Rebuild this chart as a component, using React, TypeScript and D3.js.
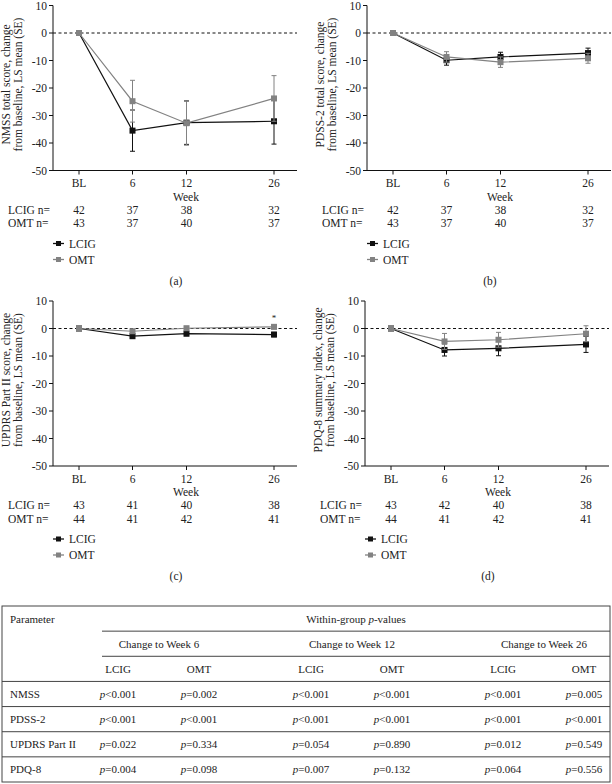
import React from 'react';
import * as d3 from 'd3';

// ---------- data ----------
const weeks = [0, 6, 12, 26];
const weekLabels = ['BL', '6', '12', '26'];
const yTicks = [10, 0, -10, -20, -30, -40, -50];
const seriesNames = ['LCIG', 'OMT'];

const nmssLCIG = [0, -35.5, -32.6, -32.1];
const nmssLCIGse = [0, 7.5, 7.9, 8.3];
const nmssOMT = [0, -24.8, -32.8, -23.8];
const nmssOMTse = [0, 7.6, 8.0, 8.3];
const nmssNLCIG = [42, 37, 38, 32];
const nmssNOMT = [43, 37, 40, 37];

const pdssLCIG = [0, -9.9, -8.7, -7.3];
const pdssLCIGse = [0, 1.8, 1.7, 1.8];
const pdssOMT = [0, -8.7, -10.6, -9.2];
const pdssOMTse = [0, 1.9, 1.9, 1.8];
const pdssNLCIG = [42, 37, 38, 32];
const pdssNOMT = [43, 37, 40, 37];

const updrsLCIG = [0, -2.8, -1.9, -2.2];
const updrsLCIGse = [0, 0.7, 0.7, 0.8];
const updrsOMT = [0, -1.0, 0.1, 0.6];
const updrsOMTse = [0, 0.7, 0.7, 0.7];
const updrsNLCIG = [43, 41, 40, 38];
const updrsNOMT = [44, 41, 42, 41];

const pdqLCIG = [0, -7.8, -7.2, -5.8];
const pdqLCIGse = [0, 2.2, 2.7, 2.9];
const pdqOMT = [0, -4.7, -4.1, -1.9];
const pdqOMTse = [0, 2.9, 2.7, 2.9];
const pdqNLCIG = [43, 42, 40, 38];
const pdqNOMT = [44, 41, 42, 41];

const tableParams = ['NMSS', 'PDSS-2', 'UPDRS Part II', 'PDQ-8'];
const tableGroups = ['Change to Week 6', 'Change to Week 12', 'Change to Week 26'];
const tablePvals = [
  ['<0.001', '=0.002', '<0.001', '<0.001', '<0.001', '=0.005'],
  ['<0.001', '<0.001', '<0.001', '<0.001', '<0.001', '<0.001'],
  ['=0.022', '=0.334', '=0.054', '=0.890', '=0.012', '=0.549'],
  ['=0.004', '=0.098', '=0.007', '=0.132', '=0.064', '=0.556'],
];

// ---------- styles ----------
const FONT = '"Liberation Serif", "DejaVu Serif", serif';
const FS = 11.5;
const BLACK = '#111';
const GRAY = '#828282';

type PanelProps = {
  ax: number;
  top: number;
  title: [string, string];
  lcig: number[];
  lcigSe: number[];
  omt: number[];
  omtSe: number[];
  nL: number[];
  nO: number[];
  label: string;
  star?: boolean;
};

function Panel(p: PanelProps) {
  const H = 165;
  const W = 244;
  const bottom = p.top + H;
  const y = d3.scaleLinear().domain([-50, 10]).range([bottom, p.top]);
  const x = d3.scaleLinear().domain(weeks).range([p.ax + 26, p.ax + 79.5, p.ax + 133.5, p.ax + 221]);
  const line = d3.line<number>().x((_, i) => x(weeks[i])).y((v) => y(v));
  const series = [
    { name: seriesNames[0], vals: p.lcig, se: p.lcigSe, color: BLACK },
    { name: seriesNames[1], vals: p.omt, se: p.omtSe, color: GRAY },
  ];
  const ms = 6;
  const titleCy = p.top + 79;
  return (
    <g fontFamily={FONT} fontSize={FS} fill="#222">
      {/* y axis */}
      <line x1={p.ax} x2={p.ax} y1={p.top} y2={bottom} stroke={BLACK} strokeWidth={1} />
      {yTicks.map((t) => (
        <g key={t}>
          <line x1={p.ax - 4} x2={p.ax} y1={y(t)} y2={y(t)} stroke={BLACK} />
          <text x={p.ax - 6} y={y(t)} textAnchor="end" dominantBaseline="central">{t}</text>
        </g>
      ))}
      {/* x axis */}
      <line x1={p.ax} x2={p.ax + W} y1={bottom} y2={bottom} stroke={BLACK} />
      {weeks.map((w, i) => (
        <g key={w}>
          <line x1={x(w)} x2={x(w)} y1={bottom} y2={bottom + 4} stroke={BLACK} />
          <text x={x(w)} y={bottom + 12.5} textAnchor="middle" dominantBaseline="central">{weekLabels[i]}</text>
          <text x={x(w)} y={bottom + 39} textAnchor="middle" dominantBaseline="central">{p.nL[i]}</text>
          <text x={x(w)} y={bottom + 52.5} textAnchor="middle" dominantBaseline="central">{p.nO[i]}</text>
        </g>
      ))}
      <text x={p.ax + 133} y={bottom + 26} textAnchor="middle" dominantBaseline="central">Week</text>
      <text x={p.ax - 45} y={bottom + 39} dominantBaseline="central">{seriesNames[0]} n=</text>
      <text x={p.ax - 45} y={bottom + 52.5} dominantBaseline="central">{seriesNames[1]} n=</text>
      {/* y title */}
      <text transform={`translate(${p.ax - 47.5},${titleCy}) rotate(-90)`} textAnchor="middle" dominantBaseline="central">{p.title[0]}</text>
      <text transform={`translate(${p.ax - 35},${titleCy}) rotate(-90)`} textAnchor="middle" dominantBaseline="central">{p.title[1]}</text>
      {/* zero line */}
      <line x1={p.ax} x2={p.ax + W} y1={y(0)} y2={y(0)} stroke={BLACK} strokeDasharray="3,2.5" />
      {/* series */}
      {series.map((s) => (
        <g key={s.name}>
          <path d={line(s.vals) || ''} fill="none" stroke={s.color} strokeWidth={1.2} />
          {s.vals.map((v, i) =>
            s.se[i] > 0 ? (
              <g key={i} stroke={s.color} strokeWidth={1}>
                <line x1={x(weeks[i])} x2={x(weeks[i])} y1={y(v + s.se[i])} y2={y(v - s.se[i])} />
                <line x1={x(weeks[i]) - 2.5} x2={x(weeks[i]) + 2.5} y1={y(v + s.se[i])} y2={y(v + s.se[i])} />
                <line x1={x(weeks[i]) - 2.5} x2={x(weeks[i]) + 2.5} y1={y(v - s.se[i])} y2={y(v - s.se[i])} />
              </g>
            ) : null
          )}
          {s.vals.map((v, i) => (
            <rect key={'m' + i} x={x(weeks[i]) - ms / 2} y={y(v) - ms / 2} width={ms} height={ms} fill={s.color} />
          ))}
        </g>
      ))}
      {p.star && (
        <text x={x(weeks[3])} y={y(p.omt[3]) - 9} textAnchor="middle" dominantBaseline="central" fontSize={9}>*</text>
      )}
      {/* legend */}
      {series.map((s, i) => (
        <g key={'lg' + s.name}>
          <line x1={p.ax} x2={p.ax + 11} y1={bottom + 73 + i * 16} y2={bottom + 73 + i * 16} stroke={s.color} strokeWidth={1.3} />
          <rect x={p.ax + 5.5 - 2.5} y={bottom + 73 + i * 16 - 2.5} width={5} height={5} fill={s.color} />
          <text x={p.ax + 16} y={bottom + 73 + i * 16} dominantBaseline="central">{s.name}</text>
        </g>
      ))}
      <text x={p.ax + 123} y={bottom + 110} textAnchor="middle" dominantBaseline="central">{p.label}</text>
    </g>
  );
}

function Table() {
  const left = 2;
  const right = 610;
  const top = 606;
  const bottom = 782;
  const rowH = (bottom - top) / 7;
  const rowY = (k: number) => top + rowH * k;
  const subX = [118, 199, 311, 392, 503, 584];
  const groupX = [159, 352, 544];
  const lineStart = 102;
  return (
    <g fontFamily={FONT} fontSize={11} fill="#222">
      <rect x={left} y={top} width={right - left} height={bottom - top} fill="none" stroke="#444" strokeWidth={1} />
      <line x1={lineStart} x2={right} y1={rowY(1)} y2={rowY(1)} stroke="#444" />
      <line x1={lineStart} x2={right} y1={rowY(2)} y2={rowY(2)} stroke="#444" />
      {[3, 4, 5, 6].map((k) => (
        <line key={k} x1={left} x2={right} y1={rowY(k)} y2={rowY(k)} stroke="#444" />
      ))}
      <text x={10} y={rowY(0.5)} dominantBaseline="central">Parameter</text>
      <text x={(lineStart + right) / 2} y={rowY(0.5)} textAnchor="middle" dominantBaseline="central">
        Within-group <tspan fontStyle="italic">p</tspan>-values
      </text>
      {tableGroups.map((g, i) => (
        <text key={g} x={groupX[i]} y={rowY(1.5)} textAnchor="middle" dominantBaseline="central">{g}</text>
      ))}
      {subX.map((sx, i) => (
        <text key={'s' + i} x={sx} y={rowY(2.5)} textAnchor="middle" dominantBaseline="central">{seriesNames[i % 2]}</text>
      ))}
      {tableParams.map((pname, r) => (
        <g key={pname}>
          <text x={10} y={rowY(3.5 + r)} dominantBaseline="central">{pname}</text>
          {tablePvals[r].map((pv, c) => (
            <text key={c} x={subX[c]} y={rowY(3.5 + r)} textAnchor="middle" dominantBaseline="central">
              <tspan fontStyle="italic">p</tspan>{pv}
            </text>
          ))}
        </g>
      ))}
    </g>
  );
}

export default function App() {
  return (
    <svg width={612} height={784} style={{ position: 'absolute', left: 0, top: 0, background: '#fff' }}>
      <rect width={612} height={784} fill="#fff" />
      <Panel ax={53} top={5.5} title={['NMSS total score, change', 'from baseline, LS mean (SE)']}
        lcig={nmssLCIG} lcigSe={nmssLCIGse} omt={nmssOMT} omtSe={nmssOMTse} nL={nmssNLCIG} nO={nmssNOMT} label="(a)" />
      <Panel ax={367} top={5.5} title={['PDSS-2 total score, change', 'from baseline, LS mean (SE)']}
        lcig={pdssLCIG} lcigSe={pdssLCIGse} omt={pdssOMT} omtSe={pdssOMTse} nL={pdssNLCIG} nO={pdssNOMT} label="(b)" />
      <Panel ax={53} top={301} title={['UPDRS Part II score, change', 'from baseline, LS mean (SE)']}
        lcig={updrsLCIG} lcigSe={updrsLCIGse} omt={updrsOMT} omtSe={updrsOMTse} nL={updrsNLCIG} nO={updrsNOMT} label="(c)" star />
      <Panel ax={365} top={301} title={['PDQ-8 summary index, change', 'from baseline, LS mean (SE)']}
        lcig={pdqLCIG} lcigSe={pdqLCIGse} omt={pdqOMT} omtSe={pdqOMTse} nL={pdqNLCIG} nO={pdqNOMT} label="(d)" />
      <Table />
    </svg>
  );
}
